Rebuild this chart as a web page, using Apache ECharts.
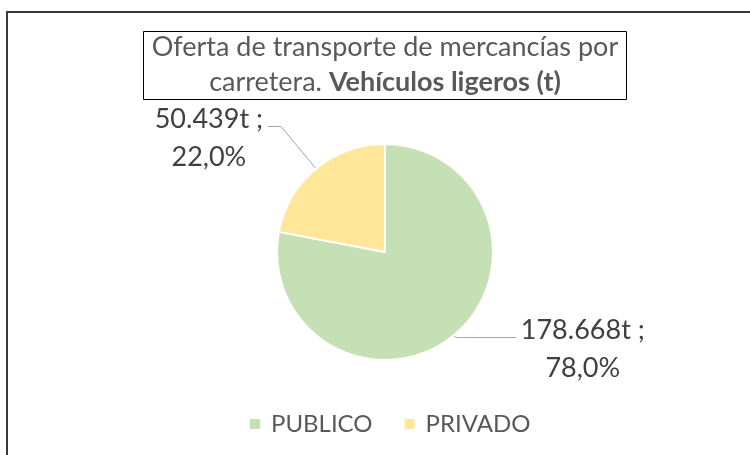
<!DOCTYPE html>
<html>
<head>
<meta charset="utf-8">
<script src="https://cdn.jsdelivr.net/npm/echarts@6/dist/echarts.min.js"></script>
<style>
  html, body { margin: 0; padding: 0; background: #fff; }
</style>
</head>
<body>
<div id="chart" style="width: 750px; height: 455px;"></div>
<script>
// datos
const categorias = ["PUBLICO", "PRIVADO"];
const toneladas = [178668, 50439];
const porcentajes = ["78,0%", "22,0%"];
const colores = ["#C5E0B4", "#FFE699"];

const fmtMiles = v => String(v).replace(/\B(?=(\d{3})+(?!\d))/g, ".");

let chart = echarts.init(document.getElementById("chart"));
let option = {
  backgroundColor: "#fff",
  animation: false,
  graphic: [
    {
      type: "rect",
      shape: { x: 7, y: 12, width: 800, height: 500 },
      style: { fill: null, stroke: "#3a3a3a", lineWidth: 2 }
    }
  ],
  title: {
    left: 376,
    top: 27,
    textAlign: "center",
    padding: [3, 9, 4, 9],
    borderColor: "#000",
    borderWidth: 1,
    text: "{n|Oferta de transporte de mercancías por}\n{n|carretera. }{b|Vehículos ligeros (t)}",
    textStyle: {
      fontWeight: "normal",
      rich: {
        n: { fontFamily: "Lato", fontSize: 27, fontWeight: "normal", color: "#595959", lineHeight: 35, align: "center" },
        b: { fontFamily: "Lato", fontSize: 27, fontWeight: "bold", color: "#595959", lineHeight: 35, align: "center" }
      }
    }
  },
  legend: {
    top: 412,
    left: 248,
    padding: 0,
    itemWidth: 12,
    itemHeight: 12,
    itemGap: 30,
    icon: "rect",
    data: categorias,
    textStyle: { fontFamily: "Lato", fontSize: 24, color: "#595959", padding: [0, 0, 0, 5] }
  },
  series: [
    {
      type: "pie",
      center: [385, 252],
      radius: 108,
      startAngle: 90,
      clockwise: true,
      itemStyle: { borderColor: "#fff", borderWidth: 2 },
      label: {
        distanceToLabelLine: 5,
        formatter: p => "{a|" + fmtMiles(toneladas[p.dataIndex]) + "t ;}\n{a|" + porcentajes[p.dataIndex] + "}",
        rich: {
          a: { fontFamily: "Lato", fontSize: 27, color: "#404040", lineHeight: 38, align: "center" }
        }
      },
      labelLine: {
        show: true,
        lineStyle: { color: "#a6a6a6", width: 1 }
      },
      labelLayout: { dy: 12 },
      data: categorias.map((c, i) => ({
        name: c,
        value: toneladas[i],
        itemStyle: { color: colores[i] },
        labelLine: i === 0 ? { length: 3, length2: 60 } : { length: 55, length2: 13 }
      }))
    }
  ]
};
chart.setOption(option);
</script>
</body>
</html>
